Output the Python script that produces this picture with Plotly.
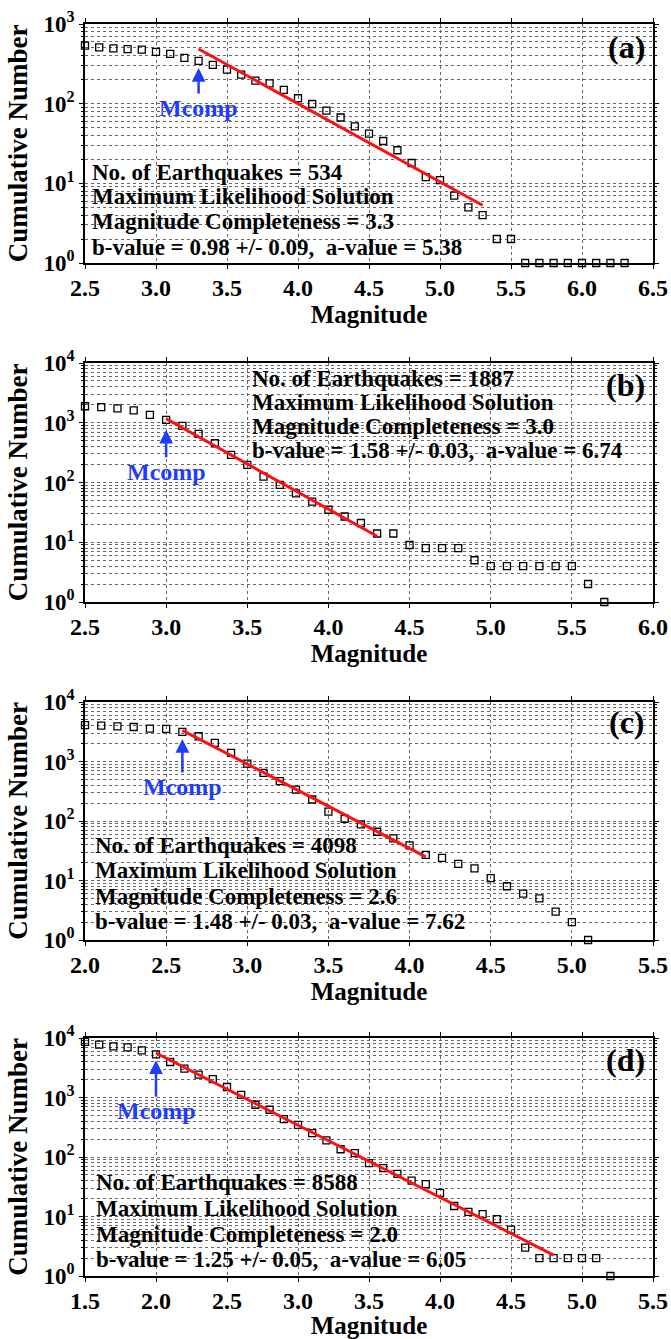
import math
import plotly.graph_objects as go

# ---------------- data ----------------
mag_a = [2.5, 2.6, 2.7, 2.8, 2.9, 3.0, 3.1, 3.2, 3.3, 3.4, 3.5, 3.6, 3.7, 3.8, 3.9, 4.0, 4.1, 4.2, 4.3,
         4.4, 4.5, 4.6, 4.7, 4.8, 4.9, 5.0, 5.1, 5.2, 5.3, 5.4, 5.5, 5.6, 5.7, 5.8, 5.9, 6.0, 6.1, 6.2, 6.3]
cum_a = [534, 509, 494, 485, 476, 446, 421, 375, 344, 307, 267, 231, 195, 180, 149, 117, 99, 82, 67,
         52, 42, 34, 26, 18, 12, 11, 7, 5, 4, 2, 2, 1, 1, 1, 1, 1, 1, 1, 1]
fit_x_a = [3.3, 5.3]
fit_y_a = [485, 5.3]

mag_b = [2.5, 2.6, 2.7, 2.8, 2.9, 3.0, 3.1, 3.2, 3.3, 3.4, 3.5, 3.6, 3.7, 3.8, 3.9, 4.0, 4.1, 4.2, 4.3,
         4.4, 4.5, 4.6, 4.7, 4.8, 4.9, 5.0, 5.1, 5.2, 5.3, 5.4, 5.5, 5.6, 5.7]
cum_b = [1887, 1827, 1734, 1606, 1358, 1119, 887, 652, 454, 290, 197, 125, 91, 66, 48, 35, 27, 21, 14,
         14, 9, 8, 8, 8, 5, 4, 4, 4, 4, 4, 4, 2, 1]
fit_x_b = [3.0, 4.3]
fit_y_b = [1164, 12.6]

mag_c = [2.0, 2.1, 2.2, 2.3, 2.4, 2.5, 2.6, 2.7, 2.8, 2.9, 3.0, 3.1, 3.2, 3.3, 3.4, 3.5, 3.6, 3.7, 3.8,
         3.9, 4.0, 4.1, 4.2, 4.3, 4.4, 4.5, 4.6, 4.7, 4.8, 4.9, 5.0, 5.1]
cum_c = [4098, 4009, 3907, 3802, 3565, 3522, 3138, 2655, 2050, 1395, 923, 643, 467, 338, 230, 144, 109,
         88, 66, 51, 39, 27, 24, 19, 16, 11, 8, 6, 5, 3, 2, 1]
fit_x_c = [2.6, 4.1]
fit_y_c = [3345, 25]

mag_d = [1.5, 1.6, 1.7, 1.8, 1.9, 2.0, 2.1, 2.2, 2.3, 2.4, 2.5, 2.6, 2.7, 2.8, 2.9, 3.0, 3.1, 3.2, 3.3,
         3.4, 3.5, 3.6, 3.7, 3.8, 3.9, 4.0, 4.1, 4.2, 4.3, 4.4, 4.5, 4.6, 4.7, 4.8, 4.9, 5.0, 5.1, 5.2]
cum_d = [8588, 7720, 7240, 6970, 6200, 5310, 3950, 3050, 2420, 2040, 1500, 1110, 755, 622, 434, 348, 252,
         190, 135, 116, 79, 65, 52, 40, 35, 25, 15, 12, 11, 9, 6, 3, 2, 2, 2, 2, 2, 1]
fit_x_d = [2.0, 4.8]
fit_y_d = [5590, 2.25]

panel_labels = ["(a)", "(b)", "(c)", "(d)"]
mcomp = [3.3, 3.0, 2.6, 2.0]
stats_text = [
    ["No. of Earthquakes = 534", "Maximum Likelihood Solution", "Magnitude Completeness = 3.3",
     "b-value = 0.98 +/- 0.09,  a-value = 5.38"],
    ["No. of Earthquakes = 1887", "Maximum Likelihood Solution", "Magnitude Completeness = 3.0",
     "b-value = 1.58 +/- 0.03,  a-value = 6.74"],
    ["No. of Earthquakes = 4098", "Maximum Likelihood Solution", "Magnitude Completeness = 2.6",
     "b-value = 1.48 +/- 0.03,  a-value = 7.62"],
    ["No. of Earthquakes = 8588", "Maximum Likelihood Solution", "Magnitude Completeness = 2.0",
     "b-value = 1.25 +/- 0.05,  a-value = 6.05"],
]
x_ranges = [[2.5, 6.5], [2.5, 6.0], [2.0, 5.5], [1.5, 5.5]]
y_decades = [3, 4, 4, 4]
x_tick_vals = [[2.5, 3.0, 3.5, 4.0, 4.5, 5.0, 5.5, 6.0, 6.5],
               [2.5, 3.0, 3.5, 4.0, 4.5, 5.0, 5.5, 6.0],
               [2.0, 2.5, 3.0, 3.5, 4.0, 4.5, 5.0, 5.5],
               [1.5, 2.0, 2.5, 3.0, 3.5, 4.0, 4.5, 5.0, 5.5]]

mags = [mag_a, mag_b, mag_c, mag_d]
cums = [cum_a, cum_b, cum_c, cum_d]
fitx = [fit_x_a, fit_x_b, fit_x_c, fit_x_d]
fity = [fit_y_a, fit_y_b, fit_y_c, fit_y_d]

# ---------------- layout geometry (pixels) ----------------
W, H = 671, 1339
px_left, px_right = 85, 653
panel_px = [(24, 263), (363, 602), (702, 940), (1038, 1276)]  # top, bottom
mcomp_tip_off = [7, 10, 7, 6]
mcomp_ay = [40, 42, 48, 51]
stats_left = [91, 251, 94, 95]
stats_lines_y = [[172, 197, 222, 248], [378, 402, 426, 450], [845, 870, 896, 921], [1182, 1208, 1234, 1259]]
label_y = [47, 385, 722, 1060]

SERIF = "Liberation Serif"
GRID = "#666666"

fig = go.Figure()
layout = dict(
    width=W, height=H, margin=dict(l=0, r=0, t=0, b=0),
    paper_bgcolor="white", plot_bgcolor="white", showlegend=False,
    font=dict(family=SERIF, color="black", size=20, weight="bold"),
)
annotations = []

for i in range(4):
    n = i + 1
    xa = "x" if n == 1 else f"x{n}"
    ya = "y" if n == 1 else f"y{n}"
    top, bot = panel_px[i]
    ydom = [1 - bot / H, 1 - top / H]
    xdom = [px_left / W, px_right / W]

    fig.add_trace(go.Scatter(
        x=mags[i], y=cums[i], mode="markers", xaxis=xa, yaxis=ya, cliponaxis=False,
        marker=dict(symbol="square-open", size=7, color="black", line=dict(width=1.3, color="black")),
    ))
    fig.add_trace(go.Scatter(
        x=fitx[i], y=fity[i], mode="lines", xaxis=xa, yaxis=ya,
        line=dict(color="#ff1010", width=3),
    ))

    dec = y_decades[i]
    axis_common = dict(
        showline=True, linecolor="black", linewidth=1.5, mirror="ticks",
        ticks="outside", ticklen=4, tickcolor="black", tickwidth=1.3,
        showgrid=True, gridcolor=GRID, griddash="dot", gridwidth=1,
        zeroline=False, automargin=False,
    )
    xkey = "xaxis" if n == 1 else f"xaxis{n}"
    ykey = "yaxis" if n == 1 else f"yaxis{n}"
    layout[xkey] = dict(
        axis_common, domain=xdom, anchor=ya, range=x_ranges[i],
        tickvals=x_tick_vals[i], ticktext=[f"{v:.1f}" for v in x_tick_vals[i]],
        tickfont=dict(family=SERIF, size=24, weight="bold", color="black"),
        ticklabelstandoff=-2,
        title=dict(text="Magnitude", font=dict(family=SERIF, size=25, weight="bold", color="black"),
                   standoff=2),
    )
    tv = [10 ** k for k in range(dec + 1)]
    layout[ykey] = dict(
        axis_common, domain=ydom, anchor=xa, type="log", range=[0, dec],
        tickvals=tv, ticktext=[f"10<sup>{k}</sup>" for k in range(dec + 1)],
        tickfont=dict(family=SERIF, size=23, weight="bold", color="black"),
        minor=dict(ticks="outside", ticklen=2, tickcolor="black", dtick="D1",
                   showgrid=True, gridcolor=GRID, griddash="dot", gridwidth=1),
        title=dict(text="Cumulative Number", font=dict(family=SERIF, size=27, weight="bold", color="black"),
                   standoff=8),
    )

    # Mcomp arrow + label
    j = mags[i].index(mcomp[i])
    pt_log = math.log10(cums[i][j])
    px_per_dec = (bot - top) / dec
    tip_log = pt_log - mcomp_tip_off[i] / px_per_dec
    annotations.append(dict(
        x=mcomp[i], y=tip_log, xref=xa, yref=ya, text="Mcomp", showarrow=True,
        ax=0, ay=mcomp_ay[i], arrowhead=2, arrowsize=1.1, arrowwidth=2.5,
        arrowcolor="#1f3dff", standoff=0,
        font=dict(family=SERIF, size=24, weight="bold", color="#1f3dff"),
    ))
    # stats block, one line per annotation
    for line, ly in zip(stats_text[i], stats_lines_y[i]):
        annotations.append(dict(
            x=stats_left[i] / W, y=1 - ly / H, xref="paper", yref="paper",
            xanchor="left", yanchor="middle", align="left", showarrow=False, text=line,
            borderpad=0,
            font=dict(family=SERIF, size=23, weight="bold", color="black"),
        ))
    # panel label
    annotations.append(dict(
        x=647 / W, y=1 - label_y[i] / H, xref="paper", yref="paper", xanchor="right",
        yanchor="middle", showarrow=False, text=panel_labels[i],
        font=dict(family=SERIF, size=32, weight="bold", color="black"),
    ))

layout["annotations"] = annotations
fig.update_layout(**layout)
fig.write_html(
    "out.html",
    config={"displayModeBar": False},
    post_script="document.body.style.margin='0';document.body.style.overflow='hidden';",
)
